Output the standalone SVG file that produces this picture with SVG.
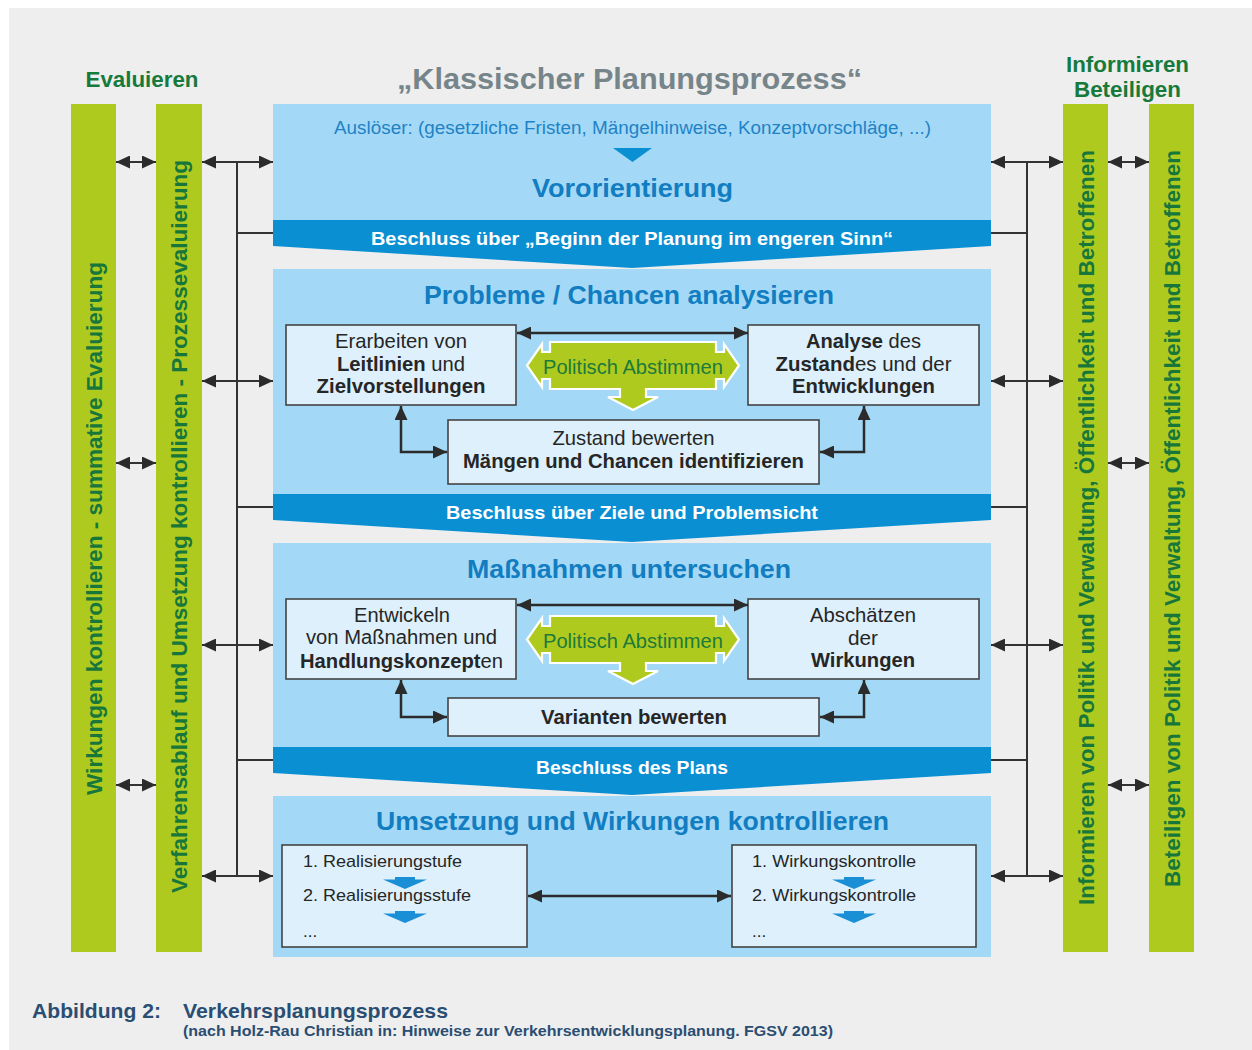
<svg xmlns="http://www.w3.org/2000/svg" xmlns:xlink="http://www.w3.org/1999/xlink" width="1252" height="1050" viewBox="0 0 1252 1050">
  <style>
    text { font-family: "Liberation Sans", Arial, Helvetica, sans-serif; }
    .bg { fill: #eeeeee; }
    .bar { fill: #afca1f; }
    .bartxt { font-size: 22px; font-weight: bold; fill: #17773b; }
    .head { font-size: 22px; font-weight: bold; fill: #177a3d; }
    .title { font-size: 30px; font-weight: bold; fill: #76858a; }
    .panel { fill: #a3d9f6; }
    .band { fill: #0a8fd3; }
    .bandtxt { font-size: 19px; font-weight: bold; fill: #ffffff; }
    .ptitle { font-size: 26px; font-weight: bold; fill: #127dc1; }
    .trig { font-size: 18px; fill: #1f82c6; }
    .box { fill: #ddf0fc; stroke: #444444; stroke-width: 1.6; }
    .btxt { font-size: 21px; fill: #262626; }
    .btxt2 { font-size: 20px; fill: #262626; }
    .stxt { font-size: 17px; fill: #262626; }
    .b { font-weight: bold; }
    .pol { fill: #afca1f; stroke: #ffffff; stroke-width: 2.2; stroke-linejoin: miter; }
    .poltxt { font-size: 20px; fill: #1c7a3a; }
    .step { fill: #1b8fd6; }
    .side { fill: none; stroke: #333333; stroke-width: 2; }
    .inner { fill: none; stroke: #2b2b2b; stroke-width: 2.5; }
    .cap1 { font-size: 21px; font-weight: bold; fill: #2a4d72; }
    .cap2 { font-size: 15px; font-weight: bold; fill: #2a4d72; }
  </style>
  <defs>
    <marker id="ah" viewBox="0 0 14 13" refX="14" refY="6.5" markerWidth="14" markerHeight="13" markerUnits="userSpaceOnUse" orient="auto-start-reverse">
      <path d="M0,0 L14,6.5 L0,13 z" fill="#2b2b2b"/>
    </marker>
    <!-- left/right/down arrow with text field, centred on its middle -->
    <path id="polShape" d="M-106,0 L-91,-21.5 L-91,-13.5 L-83,-13.5 L-83,-23.5 L83,-23.5 L83,-13.5 L91,-13.5 L91,-21.5 L106,0 L91,21.5 L91,13.5 L83,13.5 L83,23.5 L13,23.5 L13,31.5 L25,31.5 L0,44.5 L-25,31.5 L-13,31.5 L-13,23.5 L-83,23.5 L-83,13.5 L-91,13.5 L-91,21.5 Z"/>
    <!-- small blue step arrow -->
    <path id="stepArrow" d="M-10,0 L10,0 L10,2.5 L22,2.5 L0,12 L-22,2.5 L-10,2.5 Z"/>
  </defs>

  <rect class="bg" x="9" y="8" width="1243" height="1042"/>

  <!-- headings -->
  <text class="title" x="629.5" y="89" text-anchor="middle" textLength="465" lengthAdjust="spacingAndGlyphs">„Klassischer Planungsprozess“</text>
  <text class="head" x="142" y="87" text-anchor="middle" textLength="113" lengthAdjust="spacingAndGlyphs">Evaluieren</text>
  <text class="head" x="1127.5" y="72" text-anchor="middle" textLength="123" lengthAdjust="spacingAndGlyphs">Informieren</text>
  <text class="head" x="1127.5" y="97" text-anchor="middle" textLength="107" lengthAdjust="spacingAndGlyphs">Beteiligen</text>

  <!-- vertical side bars -->
  <g id="bar-summativ">
    <rect class="bar" x="71" y="104" width="45" height="848"/>
    <text class="bartxt" transform="translate(93.5,528.5) rotate(-90)" x="0" y="8" text-anchor="middle" textLength="533" lengthAdjust="spacingAndGlyphs">Wirkungen kontrollieren - summative Evaluierung</text>
  </g>
  <g id="bar-prozess">
    <rect class="bar" x="156" y="104" width="46" height="848"/>
    <text class="bartxt" transform="translate(179,526.5) rotate(-90)" x="0" y="8" text-anchor="middle" textLength="733" lengthAdjust="spacingAndGlyphs">Verfahrensablauf und Umsetzung kontrollieren - Prozessevaluierung</text>
  </g>
  <g id="bar-informieren">
    <rect class="bar" x="1063" y="104" width="45" height="848"/>
    <text class="bartxt" transform="translate(1085.5,527.5) rotate(-90)" x="0" y="8" text-anchor="middle" textLength="755" lengthAdjust="spacingAndGlyphs">Informieren von Politik und Verwaltung, Öffentlichkeit und Betroffenen</text>
  </g>
  <g id="bar-beteiligen">
    <rect class="bar" x="1149" y="104" width="45" height="848"/>
    <text class="bartxt" transform="translate(1171.5,518.5) rotate(-90)" x="0" y="8" text-anchor="middle" textLength="737" lengthAdjust="spacingAndGlyphs">Beteiligen von Politik und Verwaltung, Öffentlichkeit und Betroffenen</text>
  </g>

  <!-- phase 1 -->
  <g id="phase-vororientierung">
    <rect class="panel" x="273" y="104" width="718" height="120"/>
    <text class="trig" x="632.5" y="134" text-anchor="middle" textLength="597" lengthAdjust="spacingAndGlyphs">Auslöser: (gesetzliche Fristen, Mängelhinweise, Konzeptvorschläge, ...)</text>
    <polygon class="band" points="613,148 652,148 632.5,162"/>
    <text class="ptitle" x="632.5" y="197" text-anchor="middle" textLength="201" lengthAdjust="spacingAndGlyphs">Vororientierung</text>
  </g>
  <g id="beschluss-1">
    <polygon class="band" points="273,220 991,220 991,246 632,268 273,246"/>
    <text class="bandtxt" x="632" y="245" text-anchor="middle" textLength="522" lengthAdjust="spacingAndGlyphs">Beschluss über „Beginn der Planung im engeren Sinn“</text>
  </g>

  <!-- phase 2 -->
  <g id="phase-probleme">
    <rect class="panel" x="273" y="269" width="718" height="228"/>
    <text class="ptitle" x="629" y="304" text-anchor="middle" textLength="410" lengthAdjust="spacingAndGlyphs">Probleme / Chancen analysieren</text>
  </g>
  <g id="box-leitlinien">
    <rect class="box" x="286" y="325" width="230" height="80"/>
    <text class="btxt" x="401" y="348" text-anchor="middle" textLength="132" lengthAdjust="spacingAndGlyphs">Erarbeiten von</text>
    <text class="btxt" x="401" y="370.5" text-anchor="middle" textLength="128" lengthAdjust="spacingAndGlyphs"><tspan class="b">Leitlinien</tspan> und</text>
    <text class="btxt b" x="401" y="393" text-anchor="middle" textLength="169" lengthAdjust="spacingAndGlyphs">Zielvorstellungen</text>
  </g>
  <g id="box-analyse">
    <rect class="box" x="748" y="325" width="231" height="80"/>
    <text class="btxt" x="863.5" y="348" text-anchor="middle" textLength="115" lengthAdjust="spacingAndGlyphs"><tspan class="b">Analyse</tspan> des</text>
    <text class="btxt" x="863.5" y="370.5" text-anchor="middle" textLength="176" lengthAdjust="spacingAndGlyphs"><tspan class="b">Zustand</tspan>es und der</text>
    <text class="btxt b" x="863.5" y="393" text-anchor="middle" textLength="143" lengthAdjust="spacingAndGlyphs">Entwicklungen</text>
  </g>
  <g id="box-zustand">
    <rect class="box" x="448" y="420" width="371" height="64"/>
    <text class="btxt" x="633.5" y="445" text-anchor="middle" textLength="162" lengthAdjust="spacingAndGlyphs">Zustand bewerten</text>
    <text class="btxt b" x="633.5" y="468" text-anchor="middle" textLength="341" lengthAdjust="spacingAndGlyphs">Mängen und Chancen identifizieren</text>
  </g>
  <g id="politisch-1" transform="translate(633,365.5)">
    <use xlink:href="#polShape" href="#polShape" class="pol"/>
    <text class="poltxt" x="0" y="8.5" text-anchor="middle" textLength="180" lengthAdjust="spacingAndGlyphs">Politisch Abstimmen</text>
  </g>
  <g id="beschluss-2">
    <polygon class="band" points="273,494 991,494 991,520 632,542 273,520"/>
    <text class="bandtxt" x="632" y="519" text-anchor="middle" textLength="372" lengthAdjust="spacingAndGlyphs">Beschluss über Ziele und Problemsicht</text>
  </g>

  <!-- phase 3 -->
  <g id="phase-massnahmen">
    <rect class="panel" x="273" y="543" width="718" height="207"/>
    <text class="ptitle" x="629" y="578" text-anchor="middle" textLength="324" lengthAdjust="spacingAndGlyphs">Maßnahmen untersuchen</text>
  </g>
  <g id="box-entwickeln">
    <rect class="box" x="286" y="599" width="230" height="80"/>
    <text class="btxt2" x="402" y="622" text-anchor="middle" textLength="96" lengthAdjust="spacingAndGlyphs">Entwickeln</text>
    <text class="btxt2" x="401.5" y="644" text-anchor="middle" textLength="191" lengthAdjust="spacingAndGlyphs">von Maßnahmen und</text>
    <text class="btxt2" x="401.5" y="667.5" text-anchor="middle" textLength="203" lengthAdjust="spacingAndGlyphs"><tspan class="b">Handlungskonzept</tspan>en</text>
  </g>
  <g id="box-wirkungen">
    <rect class="box" x="748" y="599" width="231" height="80"/>
    <text class="btxt" x="863" y="622" text-anchor="middle" textLength="106" lengthAdjust="spacingAndGlyphs">Abschätzen</text>
    <text class="btxt" x="863" y="644.5" text-anchor="middle" textLength="30" lengthAdjust="spacingAndGlyphs">der</text>
    <text class="btxt b" x="863" y="667" text-anchor="middle" textLength="104" lengthAdjust="spacingAndGlyphs">Wirkungen</text>
  </g>
  <g id="box-varianten">
    <rect class="box" x="448" y="698" width="371" height="38"/>
    <text class="btxt b" x="634" y="724" text-anchor="middle" textLength="186" lengthAdjust="spacingAndGlyphs">Varianten bewerten</text>
  </g>
  <g id="politisch-2" transform="translate(633,639.5)">
    <use xlink:href="#polShape" href="#polShape" class="pol"/>
    <text class="poltxt" x="0" y="8.5" text-anchor="middle" textLength="180" lengthAdjust="spacingAndGlyphs">Politisch Abstimmen</text>
  </g>
  <g id="beschluss-3">
    <polygon class="band" points="273,747 991,747 991,773 632,795 273,773"/>
    <text class="bandtxt" x="632" y="774" text-anchor="middle" textLength="192" lengthAdjust="spacingAndGlyphs">Beschluss des Plans</text>
  </g>

  <!-- phase 4 -->
  <g id="phase-umsetzung">
    <rect class="panel" x="273" y="796" width="718" height="161"/>
    <text class="ptitle" x="632.5" y="830" text-anchor="middle" textLength="513" lengthAdjust="spacingAndGlyphs">Umsetzung und Wirkungen kontrollieren</text>
  </g>
  <g id="box-realisierung">
    <rect class="box" x="282" y="845" width="245" height="102"/>
    <text class="stxt" x="303" y="867" textLength="159" lengthAdjust="spacingAndGlyphs">1. Realisierungstufe</text>
    <use xlink:href="#stepArrow" href="#stepArrow" class="step" x="405" y="877"/>
    <text class="stxt" x="303" y="901" textLength="168" lengthAdjust="spacingAndGlyphs">2. Realisierungsstufe</text>
    <use xlink:href="#stepArrow" href="#stepArrow" class="step" x="405" y="911"/>
    <text class="stxt" x="303" y="937">...</text>
  </g>
  <g id="box-wirkungskontrolle">
    <rect class="box" x="732" y="845" width="244" height="102"/>
    <text class="stxt" x="752" y="867" textLength="164" lengthAdjust="spacingAndGlyphs">1. Wirkungskontrolle</text>
    <use xlink:href="#stepArrow" href="#stepArrow" class="step" x="854" y="877"/>
    <text class="stxt" x="752" y="901" textLength="164" lengthAdjust="spacingAndGlyphs">2. Wirkungskontrolle</text>
    <use xlink:href="#stepArrow" href="#stepArrow" class="step" x="854" y="911"/>
    <text class="stxt" x="752" y="937">...</text>
  </g>

  <!-- connectors -->
  <g id="connectors">
    <!-- left bus -->
    <path class="side" d="M237,162 V876"/>
    <path class="side" d="M237,233 H273 M237,507 H273 M237,760 H273"/>
    <line class="side" x1="202" y1="162" x2="273" y2="162" marker-start="url(#ah)" marker-end="url(#ah)"/>
    <line class="side" x1="202" y1="381" x2="273" y2="381" marker-start="url(#ah)" marker-end="url(#ah)"/>
    <line class="side" x1="202" y1="645" x2="273" y2="645" marker-start="url(#ah)" marker-end="url(#ah)"/>
    <line class="side" x1="202" y1="876" x2="273" y2="876" marker-start="url(#ah)" marker-end="url(#ah)"/>
    <line class="side" x1="116" y1="162" x2="156" y2="162" marker-start="url(#ah)" marker-end="url(#ah)"/>
    <line class="side" x1="116" y1="463" x2="156" y2="463" marker-start="url(#ah)" marker-end="url(#ah)"/>
    <line class="side" x1="116" y1="785" x2="156" y2="785" marker-start="url(#ah)" marker-end="url(#ah)"/>
    <!-- right bus -->
    <path class="side" d="M1027,162 V876"/>
    <path class="side" d="M991,233 H1027 M991,507 H1027 M991,760 H1027"/>
    <line class="side" x1="991" y1="162" x2="1063" y2="162" marker-start="url(#ah)" marker-end="url(#ah)"/>
    <line class="side" x1="991" y1="381" x2="1063" y2="381" marker-start="url(#ah)" marker-end="url(#ah)"/>
    <line class="side" x1="991" y1="645" x2="1063" y2="645" marker-start="url(#ah)" marker-end="url(#ah)"/>
    <line class="side" x1="991" y1="876" x2="1063" y2="876" marker-start="url(#ah)" marker-end="url(#ah)"/>
    <line class="side" x1="1108" y1="162" x2="1149" y2="162" marker-start="url(#ah)" marker-end="url(#ah)"/>
    <line class="side" x1="1108" y1="463" x2="1149" y2="463" marker-start="url(#ah)" marker-end="url(#ah)"/>
    <line class="side" x1="1108" y1="785" x2="1149" y2="785" marker-start="url(#ah)" marker-end="url(#ah)"/>
    <!-- inside phase 2 -->
    <line class="inner" x1="517" y1="333" x2="748" y2="333" marker-start="url(#ah)" marker-end="url(#ah)"/>
    <path class="inner" d="M401,406 V452 H447" marker-start="url(#ah)" marker-end="url(#ah)"/>
    <path class="inner" d="M820,452 H864 V406" marker-start="url(#ah)" marker-end="url(#ah)"/>
    <!-- inside phase 3 -->
    <line class="inner" x1="517" y1="605" x2="748" y2="605" marker-start="url(#ah)" marker-end="url(#ah)"/>
    <path class="inner" d="M401,680 V717 H447" marker-start="url(#ah)" marker-end="url(#ah)"/>
    <path class="inner" d="M820,717 H864 V680" marker-start="url(#ah)" marker-end="url(#ah)"/>
    <!-- inside phase 4 -->
    <line class="inner" x1="528" y1="896" x2="731" y2="896" marker-start="url(#ah)" marker-end="url(#ah)"/>
  </g>

  <!-- caption -->
  <text class="cap1" x="32" y="1018" textLength="129" lengthAdjust="spacingAndGlyphs">Abbildung 2:</text>
  <text class="cap1" x="183" y="1018" textLength="265" lengthAdjust="spacingAndGlyphs">Verkehrsplanungsprozess</text>
  <text class="cap2" x="183" y="1036" textLength="650" lengthAdjust="spacingAndGlyphs">(nach Holz-Rau Christian in: Hinweise zur Verkehrsentwicklungsplanung. FGSV 2013)</text>
</svg>
